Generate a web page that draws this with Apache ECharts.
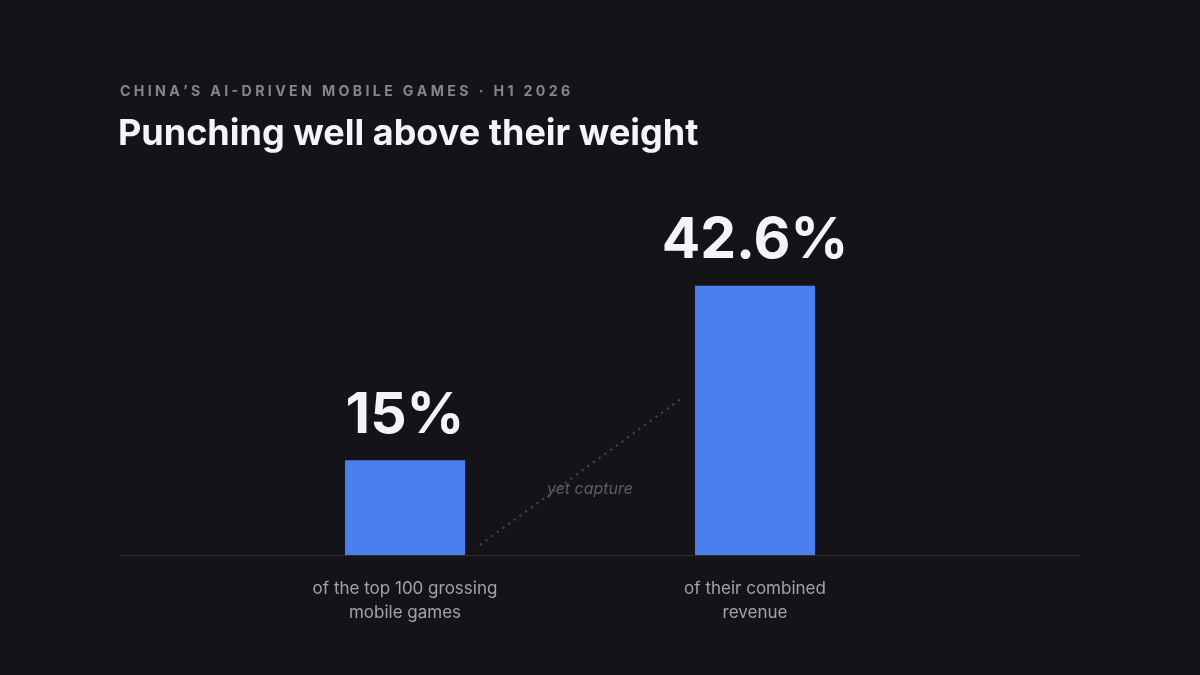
<!DOCTYPE html>
<html>
<head>
<meta charset="utf-8">
<style>
  html, body { margin: 0; padding: 0; background: #141418; }
  #chart { width: 1200px; height: 675px; }
</style>
<script src="https://cdn.jsdelivr.net/npm/echarts@6/dist/echarts.min.js"></script>
</head>
<body>
<div id="chart"></div>
<script>
// data
const categories = ['of the top 100 grossing\nmobile games', 'of their combined\nrevenue'];
const shares = [15, 42.6];
const connectorText = 'yet capture';
const kicker = "CHINA’S AI-DRIVEN MOBILE GAMES · H1 2026";
const headline = 'Punching well above their weight';

const chart = echarts.init(document.getElementById('chart'), null, { renderer: 'canvas' });

// spaced-out kicker text, no letterSpacing in zrender
const spaced = s => s.split('').join('\u2009\u200a');

const option = {
  backgroundColor: '#141418',
  animation: false,
  title: [{
    text: spaced(kicker),
    left: 120,
    top: 85,
    padding: 0,
    textStyle: { color: '#84848f', fontSize: 14.2, fontWeight: 700, fontFamily: 'Inter' }
  }, {
    text: headline,
    left: 118,
    top: 116,
    padding: 0,
    textStyle: { color: '#f4f4f7', fontSize: 36, fontWeight: 700, fontFamily: 'Inter' }
  }],
  grid: [
    { left: 230, right: 270, top: 239, bottom: 120 },
    { left: 120, right: 120, top: 239, bottom: 120 }
  ],
  xAxis: [{
    type: 'category',
    gridIndex: 0,
    data: categories,
    axisLine: { show: false },
    axisTick: { show: false },
    axisLabel: {
      color: '#a2a2ad',
      fontSize: 17,
      fontFamily: 'Inter',
      lineHeight: 24,
      margin: 22
    }
  }, {
    type: 'value',
    gridIndex: 1,
    min: 0,
    max: 1,
    axisLine: { show: true, lineStyle: { color: '#2c2c34', width: 1 } },
    axisTick: { show: false },
    axisLabel: { show: false },
    splitLine: { show: false }
  }],
  yAxis: [{
    type: 'value',
    gridIndex: 0,
    min: 0,
    max: 50,
    show: false,
    splitLine: { show: false }
  }, {
    type: 'value',
    gridIndex: 1,
    show: false,
    splitLine: { show: false }
  }],
  series: [{
    type: 'bar',
    xAxisIndex: 0,
    yAxisIndex: 0,
    data: shares,
    barWidth: 120,
    itemStyle: { color: '#4b7ff0' },
    label: {
      show: true,
      position: 'top',
      distance: 16,
      formatter: p => p.value + '%',
      color: '#f4f4f7',
      fontSize: 57,
      fontWeight: 700,
      fontFamily: 'Inter'
    }
  }]
};

chart.setOption(option);

// dotted connector between the two bars, placed from the data scales
const p0 = chart.convertToPixel({ gridIndex: 0 }, [0, 1.6]);
const p1 = chart.convertToPixel({ gridIndex: 0 }, [1, 24.6]);
const halfBar = 60, gap = 15;
const x0 = p0[0] + halfBar + gap, y0 = p0[1];
const x1 = p1[0] - halfBar - gap, y1 = p1[1];
chart.setOption({
  graphic: [{
    type: 'line',
    shape: { x1: x0, y1: y0, x2: x1, y2: y1 },
    style: { stroke: '#4a4a54', lineWidth: 2, lineDash: [2, 5] },
    z: 1
  }, {
    type: 'text',
    x: (x0 + x1) / 2 + 10,
    y: (y0 + y1) / 2 + 17,
    style: {
      text: connectorText,
      fill: '#5c5c67',
      font: 'italic 16px Inter',
      textAlign: 'center',
      textVerticalAlign: 'middle'
    },
    z: 2
  }]
});
</script>
</body>
</html>
